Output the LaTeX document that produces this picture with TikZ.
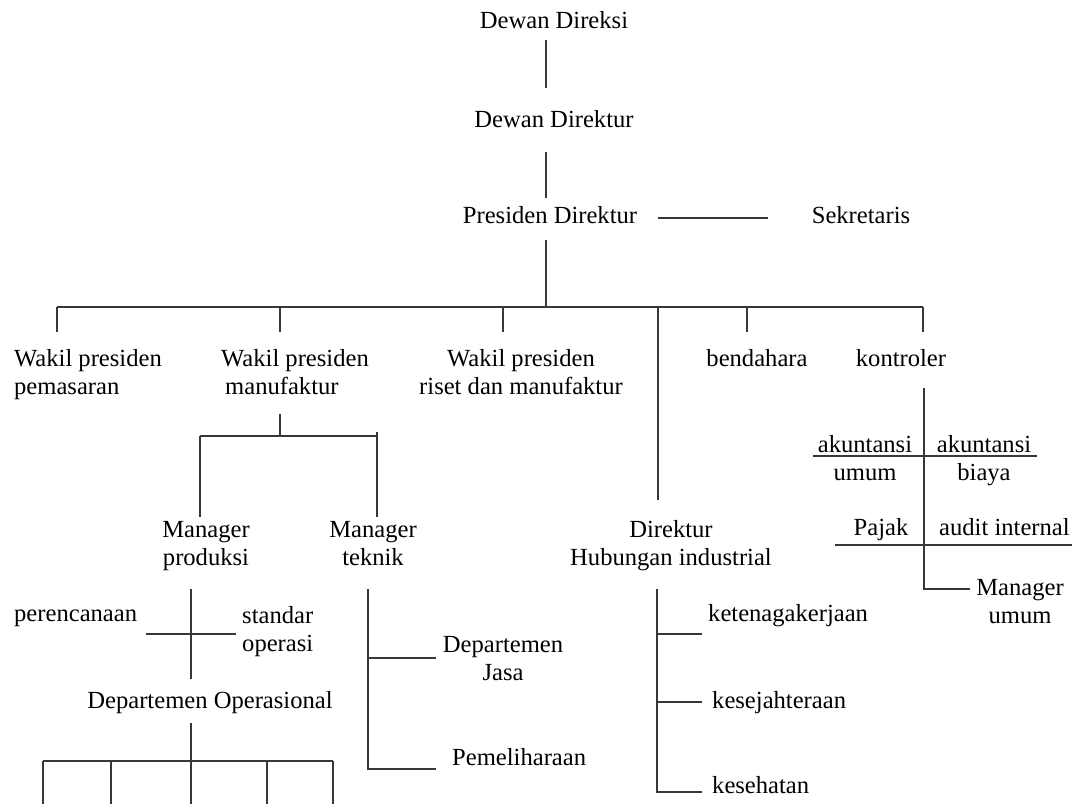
\documentclass[tikz,border=0pt]{standalone}
\usepackage{fontspec}
\setmainfont{Liberation Serif}
\begin{document}
\begin{tikzpicture}[x=1pt,y=-1pt,
  lbl/.style={inner sep=0pt, anchor=base, align=center, font=\fontsize{24.6}{28}\selectfont},
  lbll/.style={lbl, anchor=base west, align=left},
  wire/.style={line width=1.6pt, draw=black!78}]
\useasboundingbox[fill=white] (0,0) rectangle (1072,804);

% --- labels (multi-line nodes sit on the baseline of their last line) ---
\node[lbl] (direksi) at (554,28) {Dewan Direksi};
\node[lbl] (direktur) at (554,127) {Dewan Direktur};
\node[lbl] (presdir) at (550,223) {Presiden Direktur};
\node[lbl] (sekr) at (861,223) {Sekretaris};
\node[lbll] (wpp) at (14,394) {Wakil presiden\\pemasaran};
\node[lbll] (wpm) at (221,394) {Wakil presiden\\\hspace{4pt}manufaktur};
\node[lbl] (wpr) at (521,394) {Wakil presiden\\riset dan manufaktur};
\node[lbl] (bend) at (757,366) {bendahara};
\node[lbl] (kontr) at (901,366) {kontroler};
\node[lbl] (mprod) at (206,565) {Manager\\produksi};
\node[lbl] (mtek) at (373,565) {Manager\\teknik};
\node[lbl] (dirhub) at (671,565) {Direktur\\Hubungan industrial};
\node[lbll] (renc) at (14,621) {perencanaan};
\node[lbll] (stdop) at (242,651) {standar\\operasi};
\node[lbl] (depop) at (210,708) {Departemen Operasional};
\node[lbl] (depjasa) at (503,680) {Departemen\\Jasa};
\node[lbll] (pemel) at (452,765) {Pemeliharaan};
\node[lbll] (ketenag) at (708,621) {ketenagakerjaan};
\node[lbll] (kesej) at (712,708) {kesejahteraan};
\node[lbll] (kesehat) at (712,793) {kesehatan};
\node[lbl] (akumum) at (865,480) {akuntansi\\umum};
\node[lbl] (akbiaya) at (984,480) {akuntansi\\biaya};
\node[lbl] (pajak) at (881,535) {Pajak};
\node[lbll] (audit) at (939,535) {audit internal};
\node[lbl] (mumum) at (1020,623) {Manager\\umum};

% --- top spine ------------------------------------------------------
\draw[wire] (546,40) -- (546,88);
\draw[wire] (546,152) -- (546,198);
\draw[wire] (546,240) -- (546,307);
\draw[wire] (658,218) -- (768,218);

% --- main bus and drops -------------------------------------------------
\draw[wire] (57,307) -- (923,307);
\foreach \x in {57,280,503,747,923} \draw[wire] (\x,307) -- (\x,332);
\draw[wire] (658,307) -- (658,500);

% --- manufaktur branch ------------------------------------------------
\draw[wire] (280,414) -- (280,436);
\draw[wire] (200,436) -- (378,436);
\draw[wire] (200,436) -- (200,517);
\draw[wire] (377,432) -- (377,517);

% --- produksi ---------------------------------------------------------
\draw[wire] (191,589) -- (191,679);
\draw[wire] (146,634) -- (236,634);
\draw[wire] (191,723) -- (191,804);
\draw[wire] (43,761) -- (333,761);
\foreach \x in {43,111,267,333} \draw[wire] (\x,761) -- (\x,804);

% --- teknik -------------------------------------------------------------
\draw[wire] (368,589) -- (368,769) -- (436,769);
\draw[wire] (368,658) -- (436,658);

% --- hubungan industrial ------------------------------------------------
\draw[wire] (657,589) -- (657,792) -- (702,792);
\draw[wire] (657,634) -- (702,634);
\draw[wire] (657,702) -- (702,702);

% --- kontroler ------------------------------------------------------------
\draw[wire] (924,388) -- (924,589) -- (970,589);
\draw[wire] (813,456) -- (1037,456);
\draw[wire] (835,545) -- (1072,545);
\end{tikzpicture}
\end{document}
